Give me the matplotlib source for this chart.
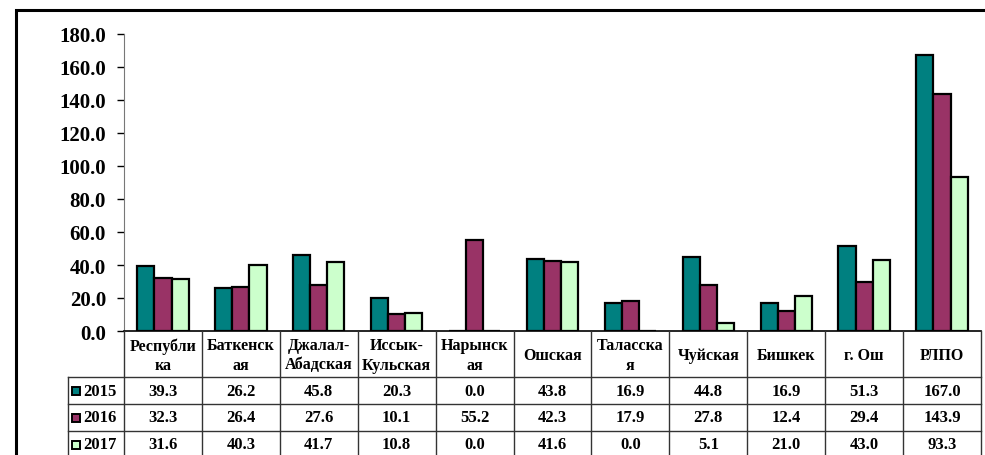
import matplotlib
matplotlib.use("Agg")
import matplotlib.pyplot as plt
from matplotlib.patches import Rectangle
import numpy as np

# Data
regions = ["Республи\nка", "Баткенск\nая", "Джалал-\nАбадская", "Иссык-\nКульская",
           "Нарынск\nая", "Ошская", "Таласска\nя", "Чуйская", "Бишкек", "г. Ош", "РЛПО"]
years = ["2015", "2016", "2017"]
vals_2015 = [39.3, 26.2, 45.8, 20.3, 0.0, 43.8, 16.9, 44.8, 16.9, 51.3, 167.0]
vals_2016 = [32.3, 26.4, 27.6, 10.1, 55.2, 42.3, 17.9, 27.8, 12.4, 29.4, 143.9]
vals_2017 = [31.6, 40.3, 41.7, 10.8, 0.0, 41.6, 0.0, 5.1, 21.0, 43.0, 93.3]
yticks = [0, 20, 40, 60, 80, 100, 120, 140, 160, 180]

series = [vals_2015, vals_2016, vals_2017]
colors = ["#008080", "#993366", "#CCFFCC"]

plt.rcParams['font.family'] = ['Liberation Serif', 'DejaVu Serif']
plt.rcParams['font.weight'] = 'bold'

W, H = 985, 456
fig = plt.figure(figsize=(W / 100, H / 100), dpi=100)

def fx(px):
    return px / W

def fy(py):
    return 1 - py / H

# outer frame (cut by the image on the right and bottom)
fig.patches.append(Rectangle((fx(16), fy(470)), fx(1100), fy(11) - fy(470),
                             transform=fig.transFigure, fill=False,
                             edgecolor="black", linewidth=2.2))

# main chart
ax_l, ax_r, ax_t, ax_b = 124, 981, 35, 332
ax = fig.add_axes([fx(ax_l), fy(ax_b), fx(ax_r - ax_l), fy(ax_t) - fy(ax_b)])
n = len(regions)
x = np.arange(n)
bw = 0.22
for i, (vals, c) in enumerate(zip(series, colors)):
    ax.bar(x + (i - 1) * bw, vals, width=bw, color=c, edgecolor="black", linewidth=1.6)

ax.set_xlim(-0.5, n - 0.5)
ax.set_ylim(0, 180)
ax.set_yticks(yticks)
ax.set_yticklabels([f"{t:.1f}" for t in yticks], fontsize=15, fontweight='bold')
ax.set_xticks([])
ax.tick_params(axis='y', length=5, width=1, pad=8, direction='out')
ax.spines['top'].set_visible(False)
ax.spines['right'].set_visible(False)
ax.spines['left'].set_color("#777777")
ax.spines['bottom'].set_color("black")
ax.spines['bottom'].set_linewidth(1.2)

# data table under the chart
tb_l, tb_bottom = 68, 459
tax = fig.add_axes([fx(tb_l), fy(tb_bottom), fx(ax_r - tb_l), fy(ax_b) - fy(tb_bottom)])
x_left = -0.5 - (ax_l - tb_l) / ((ax_r - ax_l) / n)
tax.set_xlim(x_left, n - 0.5)
tax.set_ylim(tb_bottom, ax_b)
tax.axis('off')

line_kw = dict(color="#333333", linewidth=1.0, clip_on=False)
row_y = [378, 405, 432, 459]
# horizontal lines
for y in row_y[:-1]:
    tax.plot([x_left, n - 0.5], [y, y], **line_kw)
# column boundaries
for b in np.arange(-0.5, n, 1.0):
    tax.plot([b, b], [ax_b, tb_bottom], **line_kw)
tax.plot([x_left, x_left], [row_y[0], tb_bottom], **line_kw)

# header
for i, name in enumerate(regions):
    tax.text(i, (ax_b + row_y[0]) / 2 + 1, name, ha='center', va='center',
             fontsize=11.5, fontweight='bold', linespacing=1.25)

# rows
unit = (ax_r - ax_l) / n
for r, (yr, vals, c) in enumerate(zip(years, series, colors)):
    yc = (row_y[r] + row_y[r + 1]) / 2
    tax.add_patch(Rectangle((x_left + 4 / unit, yc - 4), 8 / unit, 8,
                            facecolor=c, edgecolor="black", linewidth=1.4, clip_on=False))
    tax.text(x_left + 15 / unit, yc, yr, ha='left', va='center',
             fontsize=12, fontweight='bold')
    for i, v in enumerate(vals):
        tax.text(i, yc, f"{v:.1f}", ha='center', va='center',
                 fontsize=12, fontweight='bold')

fig.savefig("out.png", dpi=100)
